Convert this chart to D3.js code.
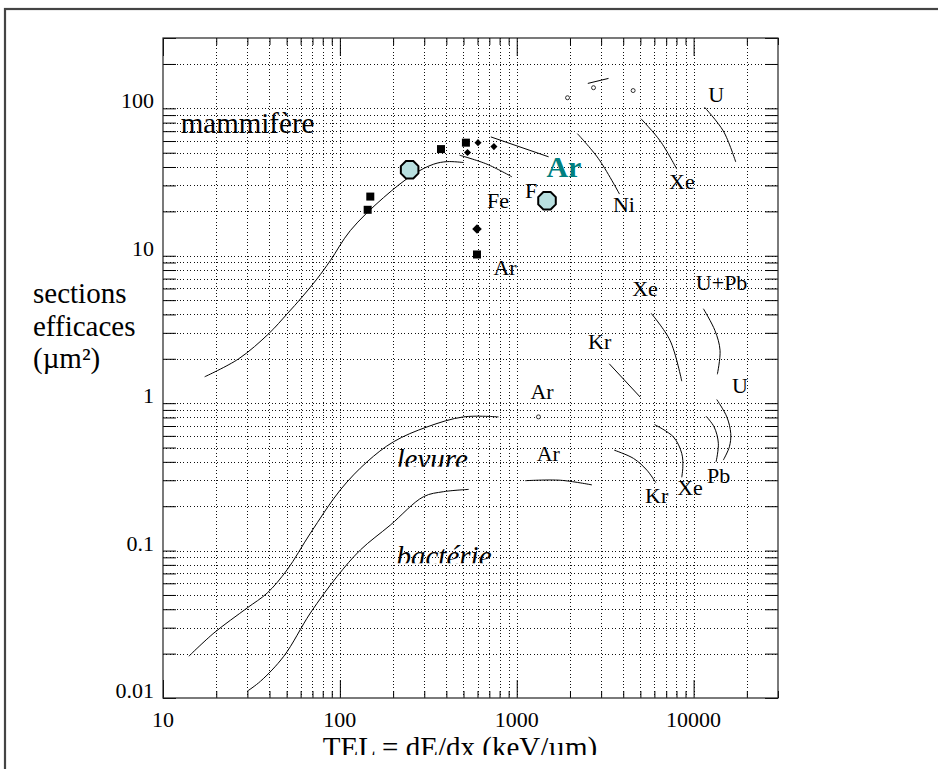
<!DOCTYPE html>
<head>
  <meta charset="UTF-8">
<script src="https://d3js.org/d3.v7.min.js"></script>
<style>
  body { margin:0; background:#fff; }
  text { font-family: "Liberation Serif", "Times New Roman", serif; fill:#000; }
  .grid line { stroke:#111; stroke-width:1; stroke-dasharray:1,2.4; shape-rendering:crispEdges; }
  .courbe { fill:none; stroke:#000; stroke-width:1; }
</style>
</head>
<body>
<svg></svg>
<script>

var width = 938, height = 769;

// ---------- DONNEES (TEL keV/um , section efficace um2)

var xTicks = [10, 100, 1000, 10000];
var xTickLabels = ["10", "100", "1000", "10000"];
var yTicks = [0.01, 0.1, 1, 10, 100];
var yTickLabels = ["0.01", "0.1", "1", "10", "100"];

var mammifere = [[17.2,1.51],[26.8,2.0],[39.6,2.96],[50.3,4.03],[61.1,5.24],[74.3,6.97],[88.3,9.27],
                 [114.5,14.8],[176.6,24.8],[261,35.7],[339,41.8],[404,43.5],[501,42.9]];
var levure = [[14.0,0.0192],[19.4,0.0276],[29.9,0.0408],[38.8,0.0515],[50.3,0.074],[68.1,0.131],
              [100.6,0.258],[142.5,0.400],[201,0.547],[311,0.690],[500,0.807],[789,0.807]];
var bacterie = [[29.9,0.0111],[35.6,0.0130],[48.2,0.0192],[68.1,0.0377],[96.4,0.0667],[130.6,0.101],
                [193,0.149],[297,0.232],[386,0.251],[535,0.260]];

var feCourbe = [[475,48.1],[679,41.8],[940,34.3]];
var arHaut   = [[714,64.0],[1514,46.9]];
var petitTrait = [[2523,147.6],[3303,159.6]];
var niCourbe = [[2203,67.3],[2900,45.5],[3811,26.2]];
var xeHaut   = [[5036,85.1],[6471,60.1],[8035,38.7]];
var uHaut    = [[11500,102],[14720,70.2],[17300,43.3]];
var krMilieu = [[3335,1.85],[4989,1.10]];
var xeMilieu = [[5754,4.07],[7363,2.66],[8570,1.41]];
var uPb      = [[11360,4.37],[13200,3.11],[14110,2.28],[13620,1.57]];
var uBas     = [[13520,1.058],[15410,0.807],[16220,0.622],[15930,0.506],[14720,0.411]];
var pbBas    = [[11770,0.815],[13060,0.690],[13800,0.534],[13400,0.400]];
var xeBas    = [[6010,0.716],[7690,0.590],[8570,0.456],[8690,0.370],[8570,0.314]];
var krBas    = [[3556,0.480],[4571,0.422],[5445,0.351],[6115,0.289]];
var arBas    = [[1117,0.298],[1762,0.300],[2661,0.279]];

var carres   = [[148.6,25.2],[143.6,20.5],[373,52.9],[516,58.5],[596,10.2]];
var losanges = [[604,58.5],[527,50.1],[743,55.0]];
var grosLosange = [[596,15.2]];
var octogones = [[248,38.3],[1483,23.6]];
var ronds = [[1937,118],[2717,138],[4550,132],[1327,0.807]];

var etiquettes = [
  {t:"U", x:13400, y:111}, {t:"Xe", x:8590, y:28.2}, {t:"Ni", x:4040, y:19.9},
  {t:"Fe", x:783, y:21.0}, {t:"F", x:1205, y:24.5}, {t:"Ar", x:859, y:7.39},
  {t:"Xe", x:5310, y:5.33}, {t:"U+Pb", x:14400, y:5.86}, {t:"Kr", x:2944, y:2.33},
  {t:"Ar", x:1390, y:1.06}, {t:"U", x:18300, y:1.18}, {t:"Ar", x:1507, y:0.407},
  {t:"Pb", x:13870, y:0.288}, {t:"Xe", x:9550, y:0.238}, {t:"Kr", x:6180, y:0.209}
];

// ---------- ECHELLES

var x = d3.scaleLog().domain([10, 30000]).range([163, 778]);
var y = d3.scaleLog().domain([0.01, 300]).range([698, 38]);

var svg = d3.select("svg").attr("width", width).attr("height", height);

var defs = svg.append("defs");
function clip(id, yMax) {
  defs.append("clipPath").attr("id", id)
    .append("rect").attr("x", 0).attr("y", 0).attr("width", width).attr("height", yMax);
}
clip("clipLevure", 466.7);
clip("clipBact", 563.3);
clip("clipTitre", 755);

// cadre exterieur
svg.append("rect").attr("x", 5).attr("y", 9).attr("width", 1000).attr("height", 1000)
  .attr("fill", "none").attr("stroke", "#444").attr("stroke-width", 2.2);

// grille pointillée
var grid = svg.append("g").attr("class", "grid");
grid.selectAll(".gx").data(x.ticks().filter(function(d){ return d > 10 && d < 30000; }))
  .enter().append("line")
  .attr("x1", function(d){ return Math.round(x(d)) + 0.5; })
  .attr("x2", function(d){ return Math.round(x(d)) + 0.5; })
  .attr("y1", y.range()[1]).attr("y2", y.range()[0]);
grid.selectAll(".gy").data(y.ticks().filter(function(d){ return d > 0.01 && d < 300; }))
  .enter().append("line")
  .attr("y1", function(d){ return Math.round(y(d)) + 0.5; })
  .attr("y2", function(d){ return Math.round(y(d)) + 0.5; })
  .attr("x1", x.range()[0]).attr("x2", x.range()[1]);

// ticks (axes d3, sans texte)
function ticks(g) { g.select(".domain").remove(); g.selectAll("text").remove();
  g.selectAll("line").attr("stroke", "#000"); }
var xMinor = x.ticks().filter(function(d){ return xTicks.indexOf(d) < 0; });
var yAll = y.ticks();

svg.append("g").attr("transform", "translate(0,698)")
  .call(d3.axisBottom(x).tickValues(xMinor).tickSize(-7)).call(ticks);
svg.append("g").attr("transform", "translate(0,698)")
  .call(d3.axisBottom(x).tickValues(xTicks).tickSize(-18)).call(ticks);
svg.append("g").attr("transform", "translate(0,38)")
  .call(d3.axisTop(x).tickValues(xMinor).tickSize(-7)).call(ticks);
svg.append("g").attr("transform", "translate(0,38)")
  .call(d3.axisTop(x).tickValues(xTicks).tickSize(-18)).call(ticks);
svg.append("g").attr("transform", "translate(163,0)")
  .call(d3.axisLeft(y).tickValues(yAll).tickSize(-13)).call(ticks);
svg.append("g").attr("transform", "translate(778,0)")
  .call(d3.axisRight(y).tickValues(yAll).tickSize(-13)).call(ticks);

// cadre du graphe
svg.append("rect").attr("x", 163).attr("y", 38).attr("width", 615).attr("height", 660)
  .attr("fill", "none").attr("stroke", "#222").attr("stroke-width", 1.2);

// labels des axes
svg.append("g").selectAll("text").data(xTicks).enter().append("text")
  .attr("x", function(d){ return x(d); }).attr("y", 727)
  .attr("text-anchor", "middle").style("font-size", "22px")
  .text(function(d, i){ return xTickLabels[i]; });
svg.append("g").selectAll("text").data(yTicks).enter().append("text")
  .attr("x", 154).attr("y", function(d){ return y(d); })
  .attr("text-anchor", "end").style("font-size", "22px")
  .text(function(d, i){ return yTickLabels[i]; });

svg.append("text").attr("x", 460).attr("y", 757).attr("text-anchor", "middle")
  .attr("clip-path", "url(#clipTitre)").style("font-size", "29px")
  .text("TEL = dE/dx (keV/µm)");

var yTitre = svg.append("text").attr("x", 33).attr("y", 303).style("font-size", "29px");
["sections", "efficaces", "(µm²)"].forEach(function(s, i){
  yTitre.append("tspan").attr("x", 33).attr("dy", i ? 32.5 : 0).text(s);
});

// ---------- COURBES
var line = d3.line().x(function(d){ return x(d[0]); }).y(function(d){ return y(d[1]); })
  .curve(d3.curveCatmullRom.alpha(0.5));

var courbes = [mammifere, levure, bacterie, feCourbe, arHaut, petitTrait, niCourbe, xeHaut, uHaut,
               krMilieu, xeMilieu, uPb, uBas, pbBas, xeBas];
svg.append("g").selectAll("path").data(courbes).enter().append("path")
  .attr("class", "courbe").attr("d", line);
svg.append("g").selectAll("path").data([krBas, arBas]).enter().append("path")
  .attr("class", "courbe").attr("stroke-width", 1.6).attr("d", line);

// ---------- POINTS
var pts = svg.append("g");
pts.selectAll(".carre").data(carres).enter().append("rect")
  .attr("x", function(d){ return x(d[0]) - 4; }).attr("y", function(d){ return y(d[1]) - 4; })
  .attr("width", 8).attr("height", 8).attr("fill", "#000");
pts.selectAll(".los").data(losanges).enter().append("path")
  .attr("transform", function(d){ return "translate(" + x(d[0]) + "," + y(d[1]) + ") rotate(45)"; })
  .attr("d", "M-2.5,-2.5H2.5V2.5H-2.5Z").attr("fill", "#000");
pts.selectAll(".gl").data(grosLosange).enter().append("path")
  .attr("transform", function(d){ return "translate(" + x(d[0]) + "," + y(d[1]) + ") rotate(45)"; })
  .attr("d", "M-3.4,-3.4H3.4V3.4H-3.4Z").attr("fill", "#000");
pts.selectAll(".oct").data(octogones).enter().append("path")
  .attr("transform", function(d){ return "translate(" + x(d[0]) + "," + y(d[1]) + ")"; })
  .attr("d", function(){
    var p = d3.range(8).map(function(i){ var a = Math.PI / 8 + i * Math.PI / 4;
      return [9.5 * Math.cos(a), 9.5 * Math.sin(a)]; });
    return "M" + p.join("L") + "Z"; })
  .attr("fill", "#b9e0e0").attr("stroke", "#000").attr("stroke-width", 2);
pts.selectAll(".rond").data(ronds).enter().append("circle")
  .attr("cx", function(d){ return x(d[0]); }).attr("cy", function(d){ return y(d[1]); })
  .attr("r", 2).attr("fill", "#fff").attr("stroke", "#000").attr("stroke-width", 0.8);

// ---------- ETIQUETTES
svg.append("g").selectAll("text").data(etiquettes).enter().append("text")
  .attr("x", function(d){ return x(d.x); }).attr("y", function(d){ return y(d.y); })
  .attr("text-anchor", "middle").style("font-size", "22px")
  .text(function(d){ return d.t; });

svg.append("text").attr("x", x(1849)).attr("y", y(34.4)).attr("text-anchor", "middle")
  .style("font-size", "30px").style("font-weight", "bold").style("fill", "#008080").text("Ar");

svg.append("text").attr("x", x(12.6)).attr("y", y(67.8)).style("font-size", "29px").text("mammifère");
svg.append("text").attr("x", x(209)).attr("y", y(0.357)).style("font-size", "29px")
  .style("font-style", "italic").attr("clip-path", "url(#clipLevure)").text("levure");
svg.append("text").attr("x", x(209)).attr("y", y(0.078)).style("font-size", "29px")
  .style("font-style", "italic").attr("clip-path", "url(#clipBact)").text("bactérie");

</script>
</body>
